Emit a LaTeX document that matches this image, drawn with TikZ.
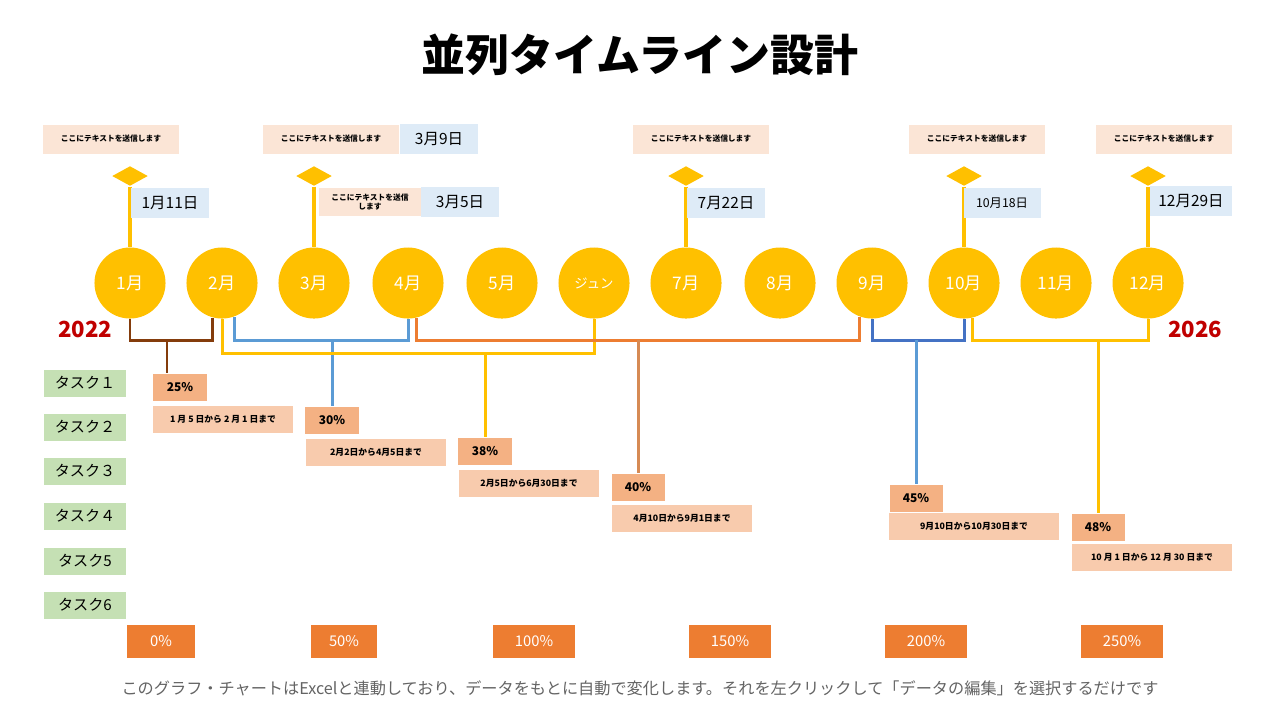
\documentclass[tikz,border=0pt]{standalone}
\usepackage{fontspec}
\setmainfont{Noto Sans CJK JP}
\usetikzlibrary{shapes.geometric,calc}
\definecolor{tl_gold}{RGB}{255,192,0}
\definecolor{tl_peach}{RGB}{251,229,214}
\definecolor{tl_sky}{RGB}{222,235,247}
\definecolor{tl_green}{RGB}{197,224,180}
\definecolor{tl_pct}{RGB}{244,177,131}
\definecolor{tl_span}{RGB}{248,203,173}
\definecolor{tl_orange}{RGB}{237,125,49}
\definecolor{tl_red}{RGB}{192,0,0}
\definecolor{tl_brown}{RGB}{132,60,12}
\definecolor{tl_blue}{RGB}{91,155,213}
\definecolor{tl_navy}{RGB}{68,114,196}
\definecolor{tl_tan}{RGB}{214,138,84}
\definecolor{tl_grey}{RGB}{100,100,100}

\begin{document}
\begin{tikzpicture}[x=0.01cm, y=-0.01cm,
  monthdot/.style={circle, fill=tl_gold, text=white, minimum size=0.71cm, inner sep=0pt, font=\fontsize{4.9}{5}\selectfont},
  flagmark/.style={diamond, fill=tl_gold, minimum width=0.36cm, minimum height=0.2cm, inner sep=0pt},
  stemline/.style={tl_gold, line width=0.9pt},
  notebox/.style={fill=tl_peach, minimum width=1.35cm, minimum height=0.29cm, inner sep=0pt, align=center, font=\bfseries\fontsize{2.2}{2.5}\selectfont},
  datebox/.style={fill=tl_sky, minimum width=0.77cm, minimum height=0.3cm, inner sep=0pt, font=\fontsize{4.4}{5}\selectfont},
  yearlabel/.style={text=tl_red, font=\bfseries\fontsize{6.3}{7}\selectfont},
  taskbox/.style={fill=tl_green, minimum width=0.82cm, minimum height=0.27cm, inner sep=0pt, font=\fontsize{4.3}{5}\selectfont},
  pctbox/.style={fill=tl_pct, minimum width=0.53cm, minimum height=0.27cm, inner sep=0pt, font=\bfseries\fontsize{3.4}{4}\selectfont},
  spanbox/.style={fill=tl_span, minimum width=1.4cm, minimum height=0.27cm, inner sep=0pt, font=\bfseries\fontsize{2.5}{3}\selectfont},
  scalebox/.style={fill=tl_orange, text=white, minimum height=0.33cm, inner sep=0pt, font=\fontsize{4.2}{5}\selectfont},
  linkline/.style={line width=0.85pt}]
  \path[fill=white] (0,0) rectangle (1280,720);
  \node[font=\bfseries\fontsize{12.5}{13}\selectfont] (title) at (640,55) {並列タイムライン設計};

  \foreach \i/\x/\t in {1/130/1月, 2/222/2月, 3/314/3月, 4/408/4月, 5/502/5月,
      6/594/{\fontsize{3.8}{4}\selectfont ジュン}, 7/686/7月, 8/780/8月, 9/872/9月,
      10/964/10月, 11/1056/11月, 12/1148/12月}
    \node[monthdot] (m\i) at (\x,283) {\t};

  \foreach \i/\m in {1/1, 2/3, 3/7, 4/10, 5/12}{
    \node[flagmark] (f\i) at (m\m |- 0,176) {};
    \draw[stemline] (f\i.south) -- (m\m.north);
  }

  \node[notebox] (n1) at (111,139) {ここにテキストを送信します};
  \node[notebox] (n2) at (331,139) {ここにテキストを送信します};
  \node[notebox] (n3) at (701,139) {ここにテキストを送信します};
  \node[notebox] (n4) at (977,139) {ここにテキストを送信します};
  \node[notebox] (n5) at (1164,139) {ここにテキストを送信します};
  \node[notebox, minimum width=1.01cm, minimum height=0.28cm] (n6) at (370,202) {ここにテキストを送信\\します};

  \node[datebox] (d1) at (170,203) {1月11日};
  \node[datebox] (d2) at (439,139) {3月9日};
  \node[datebox] (d3) at (460,202) {3月5日};
  \node[datebox] (d4) at (726,203) {7月22日};
  \node[datebox, font=\fontsize{3.5}{4}\selectfont] (d5) at (1002,203) {10月18日};
  \node[datebox, minimum width=0.82cm] (d6) at (1191,201) {12月29日};

  \node[yearlabel] (y1) at (85,329) {2022};
  \node[yearlabel] (y2) at (1195,329) {2026};

  \foreach \i/\y/\t in {1/383/タスク１, 2/427/タスク２, 3/471/タスク３, 4/516/タスク４, 5/561/タスク5, 6/605/タスク6}
    \node[taskbox] (t\i) at (85,\y) {\t};

  \node[pctbox] (p1) at (180,387) {25\%};
  \node[pctbox] (p2) at (332,420) {30\%};
  \node[pctbox] (p3) at (485,451) {38\%};
  \node[pctbox] (p4) at (638,487) {40\%};
  \node[pctbox] (p5) at (916,498) {45\%};
  \node[pctbox] (p6) at (1098,527) {48\%};

  \node[spanbox] (s1) at (223,419) {1 月 5 日から 2 月 1 日まで};
  \node[spanbox] (s2) at (376,452) {2月2日から4月5日まで};
  \node[spanbox] (s3) at (529,483) {2月5日から6月30日まで};
  \node[spanbox] (s4) at (682,518) {4月10日から9月1日まで};
  \node[spanbox, minimum width=1.69cm] (s5) at (974,526) {9月10日から10月30日まで};
  \node[spanbox, minimum width=1.6cm] (s6) at (1152,557) {10 月 1 日から 12 月 30 日まで};

  \foreach \i/\x/\w/\t in {1/161/0.67/0\%, 2/344/0.66/50\%, 3/534/0.81/100\%,
      4/730/0.82/150\%, 5/926/0.82/200\%, 6/1122/0.82/250\%}
    \node[scalebox, minimum width=\w cm] (c\i) at (\x,641) {\t};

  \node[text=tl_grey, font=\fontsize{4.6}{5}\selectfont] (foot) at (640,688)
    {このグラフ・チャートはExcelと連動しており、データをもとに自動で変化します。それを左クリックして「データの編集」を選択するだけです};

  \coordinate (busA) at (0,340);
  \coordinate (busB) at (0,353);
  \coordinate (p1top) at ($(p1.north)+(-13,0)$);

  \draw[linkline, tl_brown] (m1.south) |- (m2.255 |- busA) -- (m2.255);
  \draw[linkline, tl_brown] (p1top) -- (p1top |- busA);
  \draw[linkline, tl_blue] (m2.290) |- (m4.south |- busA) -- (m4.south);
  \draw[linkline, tl_blue] (p2.north) -- (p2.north |- busA);
  \draw[linkline, tl_gold] (m2.south) |- (m6.south |- busB) -- (m6.south);
  \draw[linkline, tl_gold] (p3.north) -- (p3.north |- busB);
  \draw[linkline, tl_orange] (m4.283) |- (m9.250 |- busA) -- (m9.250);
  \draw[linkline, tl_tan] (p4.north) -- (p4.north |- busA);
  \draw[linkline, tl_navy] (m9.south) |- (m10.south |- busA) -- (m10.south);
  \draw[linkline, tl_blue] (p5.north) -- (p5.north |- busA);
  \draw[linkline, tl_gold] (m10.283) |- (m12.south |- busA) -- (m12.south);
  \draw[linkline, tl_gold] (p6.north) -- (p6.north |- busA);
\end{tikzpicture}
\end{document}
